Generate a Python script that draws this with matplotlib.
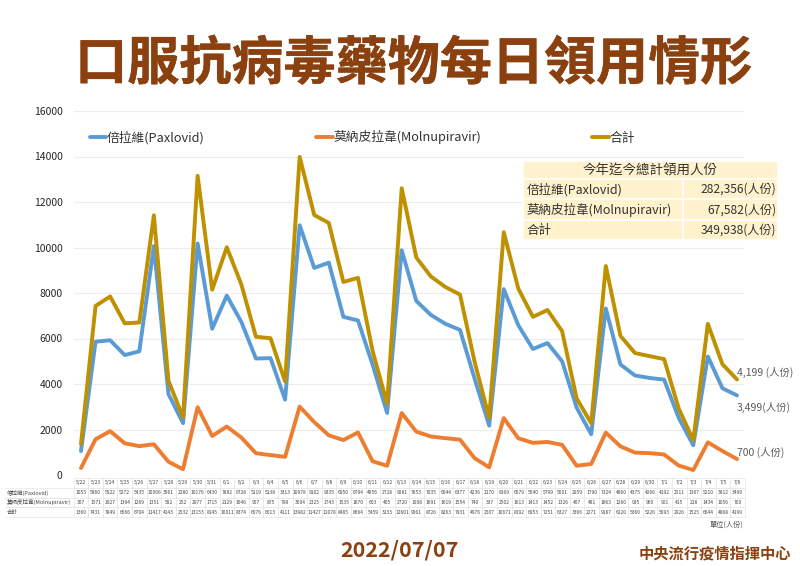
"""
Oral antiviral daily pick-up chart (Paxlovid / Molnupiravir)
"""

import matplotlib
matplotlib.use("Agg")
import matplotlib.pyplot as plt
import matplotlib.patheffects as pe

plt.rcParams["font.family"] = ["Noto Sans CJK TC", "DejaVu Sans"]

# ── data ─────────────────────────────────────────────────────────────────────
dates = ["5/22", "5/23", "5/24", "5/25", "5/26", "5/27", "5/28", "5/29", "5/30", "5/31",
         "6/1", "6/2", "6/3", "6/4", "6/5", "6/6", "6/7", "6/8", "6/9", "6/10",
         "6/11", "6/12", "6/13", "6/14", "6/15", "6/16", "6/17", "6/18", "6/19", "6/20",
         "6/21", "6/22", "6/23", "6/24", "6/25", "6/26", "6/27", "6/28", "6/29", "6/30",
         "7/1", "7/2", "7/3", "7/4", "7/5", "7/6"]
paxlovid = [1053, 5860, 5922, 5272, 5435, 10066, 3561, 2280, 10176, 6430,
            7882, 6728, 5119, 5138, 3313, 10978, 9102, 9335, 6950, 6794,
            4856, 2728, 9881, 7653, 7035, 6644, 6377, 4236, 2170, 8169,
            6579, 5540, 5799, 5001, 2959, 1790, 7324, 4860, 4375, 4266,
            4192, 2511, 1307, 5210, 3812, 3499]
molnupiravir = [307, 1571, 1927, 1394, 1269, 1351, 582, 252, 2977, 1715,
                2129, 1646, 957, 875, 798, 3004, 2325, 1743, 1535, 1870,
                603, 405, 2720, 1908, 1691, 1619, 1554, 740, 337, 2502,
                1613, 1413, 1452, 1326, 407, 481, 1863, 1260, 985, 960,
                901, 415, 218, 1434, 1056, 700]
total = [1360, 7431, 7849, 6666, 6704, 11417, 4143, 2532, 13153, 8145,
         10011, 8374, 6076, 6013, 4111, 13982, 11427, 11078, 8485, 8664,
         5459, 3133, 12601, 9561, 8726, 8263, 7931, 4976, 2507, 10671,
         8192, 6953, 7251, 6327, 3366, 2271, 9187, 6120, 5360, 5226,
         5093, 2926, 1525, 6644, 4868, 4199]
yticks = [0, 2000, 4000, 6000, 8000, 10000, 12000, 14000, 16000]
summary_names = ["倍拉維(Paxlovid)", "莫納皮拉韋(Molnupiravir)", "合計"]
summary_vals = ["282,356", "67,582", "349,938"]

BLUE, ORANGE, GOLD = "#5b9bd5", "#ed7d31", "#bf9000"
BROWN = "#8b4010"
W, H = 800, 566


def px_axes(x0, y0, x1, y1):
    # axes from pixel box, y measured from the top of the image
    return fig.add_axes([x0 / W, 1 - y1 / H, (x1 - x0) / W, (y1 - y0) / H])


fig = plt.figure(figsize=(8, 5.66), dpi=100)

# ── title and footer ─────────────────────────────────────────────────────────
fig.text(414 / W, 1 - 64 / H, "口服抗病毒藥物每日領用情形", fontsize=37.5, fontweight="black",
         color=BROWN, ha="center", va="center",
         path_effects=[pe.withStroke(linewidth=0.3, foreground=BROWN)])
fig.text(399 / W, 1 - 550 / H, "2022/07/07", fontsize=15.5, fontweight="bold",
         color=BROWN, ha="center", va="center")
fig.text(715 / W, 1 - 553 / H, "中央流行疫情指揮中心", fontsize=11, fontweight="bold",
         color=BROWN, ha="center", va="center")
fig.text(743 / W, 1 - 525 / H, "單位(人份)", fontsize=5.2, color="#555555",
         ha="right", va="center")

# ── lines ────────────────────────────────────────────────────────────────────
ax = px_axes(73.7, 111, 744.3, 475)
xs = range(len(dates))
ax.plot(xs, paxlovid, color=BLUE, linewidth=2.8, label="倍拉維(Paxlovid)", solid_capstyle="round")
ax.plot(xs, molnupiravir, color=ORANGE, linewidth=2.8, label="莫納皮拉韋(Molnupiravir)", solid_capstyle="round")
ax.plot(xs, total, color=GOLD, linewidth=2.8, label="合計", solid_capstyle="round")

ax.set_xlim(-0.5, len(dates) - 0.5)
ax.set_ylim(0, 16000)
ax.set_yticks(yticks)
ax.set_xticks([])
ax.tick_params(axis="y", length=0, labelsize=7.5, labelcolor="#262626", pad=8)
ax.grid(axis="y", color="#ececec", linewidth=0.8)
ax.set_axisbelow(True)
for s in ax.spines.values():
    s.set_visible(False)

ax.legend(loc="upper left", bbox_to_anchor=(0.024, 0.947), ncol=3, frameon=False,
          fontsize=9.2, columnspacing=8.7, handlelength=1.3, handletextpad=0.05,
          borderpad=0, borderaxespad=0, labelcolor="#333333")

# end labels
for val, txt, yoff in [(total[-1], "4,199 (人份)", 5.4), (paxlovid[-1], "3,499(人份)", -9),
                       (molnupiravir[-1], "700 (人份)", 5)]:
    ax.annotate(txt, (len(dates) - 1, val), xytext=(0, yoff), textcoords="offset points",
                fontsize=7.5, fontweight="medium", color="#595959", va="center",
                annotation_clip=False)

# ── summary box ──────────────────────────────────────────────────────────────
sum_ax = px_axes(523, 161, 778, 240)
sum_ax.axis("off")
head_tb = sum_ax.table(cellText=[["今年迄今總計領用人份"]], bbox=[0, 0.77, 1, 0.23])
body = [[n, v + "(人份)"] for n, v in zip(summary_names, summary_vals)]
body_tb = sum_ax.table(cellText=body, colWidths=[0.627, 0.373], bbox=[0, 0, 1, 0.77])
for tb, size in [(head_tb, 9.7), (body_tb, 9)]:
    tb.auto_set_font_size(False)
    for (r, c), cell in tb.get_celld().items():
        cell.set_facecolor("#fff2cc")
        cell.set_edgecolor("white")
        cell.set_linewidth(1.2)
        cell.PAD = 0.02
        cell.get_text().set_fontsize(size)
        cell.get_text().set_color("#333333")
        cell.get_text().set_fontweight("medium")
        if tb is head_tb:
            cell.get_text().set_ha("center")
        else:
            cell.get_text().set_ha("left" if c == 0 else "right")
            cell.get_text().set_fontsize(size if c == 0 else 8.7)

# ── data table under the chart ───────────────────────────────────────────────
tab_ax = px_axes(5, 478, 745, 517)
tab_ax.axis("off")
label_w = 68.7 / 740
col_w = (1 - label_w) / len(dates)
rows = [[""] + dates,
        ["倍拉維(Paxlovid)"] + [str(v) for v in paxlovid],
        ["莫納皮拉韋(Molnupiravir)"] + [str(v) for v in molnupiravir],
        ["合計"] + [str(v) for v in total]]
data_tb = tab_ax.table(cellText=rows, colWidths=[label_w] + [col_w] * len(dates), bbox=[0, 0, 1, 1])
data_tb.auto_set_font_size(False)
for (r, c), cell in data_tb.get_celld().items():
    cell.set_edgecolor("#e0e0e0")
    cell.set_linewidth(0.4)
    cell.PAD = 0.02
    cell.get_text().set_fontsize(3.5)
    cell.get_text().set_color("#444444")
    if c == 0:
        cell.get_text().set_ha("left")
        cell.get_text().set_fontsize(4)
        cell.visible_edges = "" if r == 0 else "BT"
    else:
        cell.get_text().set_ha("center")

fig.savefig("out.png", dpi=100)
print("Saved: out.png")
